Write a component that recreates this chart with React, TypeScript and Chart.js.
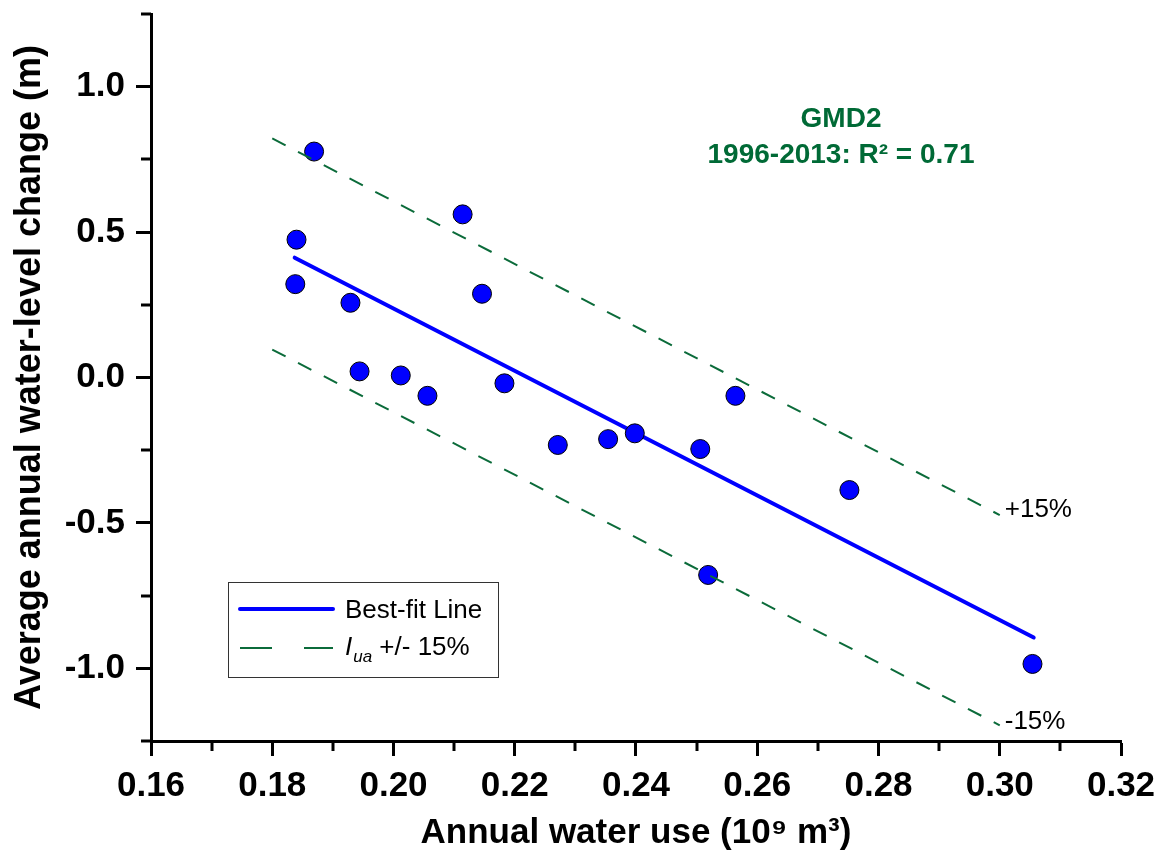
import React, { useEffect, useRef } from 'react';
import { Chart, registerables } from 'chart.js';

Chart.register(...registerables);

const FONT = "'Liberation Sans', Arial, Helvetica, sans-serif";

// Observed data (annual water use in 10^9 m^3, average annual water-level change in m), 1996-2013
const waterUse = [0.1869, 0.1840, 0.1838, 0.1929, 0.2114, 0.2146, 0.1944, 0.2012, 0.2056, 0.2183, 0.2271, 0.2354, 0.2398, 0.2506, 0.2564, 0.2519, 0.2752, 0.3054];
const levelChange = [0.777, 0.474, 0.321, 0.257, 0.561, 0.288, 0.021, 0.007, -0.063, -0.020, -0.232, -0.212, -0.192, -0.246, -0.063, -0.679, -0.387, -0.985];

// Best-fit line end points
const fitX = [0.1837, 0.3056];
const fitY = [0.412, -0.894];

// +/- 15% band end points
const upperX = [0.18, 0.30];
const upperY = [0.822, -0.473];
const lowerX = [0.18, 0.30];
const lowerY = [0.096, -1.196];

// Axis ticks
const xTickValues = [0.16, 0.17, 0.18, 0.19, 0.20, 0.21, 0.22, 0.23, 0.24, 0.25, 0.26, 0.27, 0.28, 0.29, 0.30, 0.31, 0.32];
const xTickLabels = ['0.16', '', '0.18', '', '0.20', '', '0.22', '', '0.24', '', '0.26', '', '0.28', '', '0.30', '', '0.32'];
const yTickValues = [-1.25, -1.0, -0.75, -0.5, -0.25, 0, 0.25, 0.5, 0.75, 1.0, 1.25];
const yTickLabels = ['', '-1.0', '', '-0.5', '', '0.0', '', '0.5', '', '1.0', ''];

const xTitle = 'Annual water use (10\u2079 m\u00B3)';
const yTitle = 'Average annual water-level change (m)';
const annotationLines = ['GMD2', '1996-2013: R\u00B2 = 0.71'];
const bandLabels = ['+15%', '-15%'];
const legendFitLabel = 'Best-fit Line';
const legendBandMain = 'I';
const legendBandSub = 'ua';
const legendBandRest = ' +/- 15%';

const BLUE = '#0000FF';
const GREEN = '#0B6B3A';
const TEXT_GREEN = '#006A36';

const toPts = (xs: number[], ys: number[]) => xs.map((x, i) => ({ x, y: ys[i] }));

export default function App() {
  const ref = useRef<HTMLCanvasElement>(null);

  useEffect(() => {
    document.body.style.margin = '0';
    const canvas = ref.current!;

    const overlay = {
      id: 'overlay',
      afterDraw(chart: any) {
        const ctx = chart.ctx as CanvasRenderingContext2D;
        const xs = chart.scales.x;
        const ys = chart.scales.y;
        const area = chart.chartArea;
        ctx.save();
        // minor ticks
        ctx.strokeStyle = '#000';
        ctx.lineWidth = 3;
        ctx.lineCap = 'butt';
        xTickValues.forEach((v, i) => {
          if (xTickLabels[i]) return;
          const px = Math.round(xs.getPixelForValue(v));
          ctx.beginPath();
          ctx.moveTo(px, area.bottom);
          ctx.lineTo(px, area.bottom + 10);
          ctx.stroke();
        });
        yTickValues.forEach((v, i) => {
          if (yTickLabels[i]) return;
          const py = Math.round(ys.getPixelForValue(v));
          ctx.beginPath();
          ctx.moveTo(area.left, py);
          ctx.lineTo(area.left - 10, py);
          ctx.stroke();
        });

        // annotation
        ctx.fillStyle = TEXT_GREEN;
        ctx.textAlign = 'center';
        ctx.textBaseline = 'alphabetic';
        ctx.font = `bold 28px ${FONT}`;
        const ax = xs.getPixelForValue(0.275);
        ctx.fillText(annotationLines[0], 841, 127);
        ctx.fillText(annotationLines[1], 841, 163);

        // band labels
        ctx.fillStyle = '#000';
        ctx.textAlign = 'left';
        ctx.font = `26px ${FONT}`;
        const ux = xs.getPixelForValue(upperX[1]);
        ctx.fillText(bandLabels[0], ux + 5, ys.getPixelForValue(upperY[1]) + 2);
        ctx.fillText(bandLabels[1], ux + 5, ys.getPixelForValue(lowerY[1]) + 4);

        // legend box
        const bx = 228.5, by = 582.5, bw = 270, bh = 95;
        ctx.strokeStyle = '#333';
        ctx.lineWidth = 1;
        ctx.strokeRect(bx, by, bw, bh);
        ctx.strokeStyle = BLUE;
        ctx.lineWidth = 4;
        ctx.lineCap = 'round';
        ctx.beginPath();
        ctx.moveTo(240, 609);
        ctx.lineTo(333, 609);
        ctx.stroke();
        ctx.strokeStyle = GREEN;
        ctx.lineWidth = 2;
        ctx.lineCap = 'butt';
        ctx.beginPath();
        ctx.moveTo(240, 648);
        ctx.lineTo(272, 648);
        ctx.moveTo(304, 648);
        ctx.lineTo(333, 648);
        ctx.stroke();
        ctx.fillStyle = '#000';
        ctx.font = `26px ${FONT}`;
        ctx.fillText(legendFitLabel, 345, 618);
        ctx.font = `italic 26px ${FONT}`;
        ctx.fillText(legendBandMain, 345, 655);
        let cx = 345 + ctx.measureText(legendBandMain).width + 1;
        ctx.font = `italic 17px ${FONT}`;
        ctx.fillText(legendBandSub, cx, 662);
        cx += ctx.measureText(legendBandSub).width;
        ctx.font = `26px ${FONT}`;
        ctx.fillText(legendBandRest, cx, 655);
        ctx.restore();
      },
    };

    const zeroPad = (scale: any) => {
      scale.paddingTop = 0;
      scale.paddingBottom = 0;
      scale.paddingLeft = 0;
      scale.paddingRight = 0;
    };

    const chart = new Chart(canvas, {
      type: 'scatter',
      data: {
        datasets: [
          {
            label: 'upper',
            data: toPts(upperX, upperY),
            showLine: true,
            borderColor: GREEN,
            borderWidth: 2,
            borderDash: [15, 14],
            pointRadius: 0,
            order: 0,
          },
          {
            label: 'lower',
            data: toPts(lowerX, lowerY),
            showLine: true,
            borderColor: GREEN,
            borderWidth: 2,
            borderDash: [15, 14],
            pointRadius: 0,
            order: 0,
          },
          {
            label: 'observed',
            data: toPts(waterUse, levelChange),
            pointRadius: 9.5,
            pointBackgroundColor: BLUE,
            pointBorderColor: '#000',
            pointBorderWidth: 1,
            showLine: false,
            order: 1,
          },
          {
            label: 'fit',
            data: toPts(fitX, fitY),
            showLine: true,
            borderColor: BLUE,
            borderWidth: 4,
            borderCapStyle: 'round',
            pointRadius: 0,
            order: 2,
          },
        ],
      },
      options: {
        responsive: false,
        animation: false,
        layout: { padding: { left: 0, top: 14, right: 42, bottom: 0 } },
        plugins: {
          legend: { display: false },
          tooltip: { enabled: false },
        },
        scales: {
          x: {
            type: 'linear',
            min: 0.16,
            max: 0.32,
            afterBuildTicks: (s: any) => {
              s.ticks = xTickValues.map((v) => ({ value: v }));
            },
            afterFit: (s: any) => {
              s.height = 113;
              zeroPad(s);
            },
            border: { display: true, width: 3, color: '#000' },
            grid: {
              drawOnChartArea: false,
              drawTicks: true,
              tickLength: 15,
              tickWidth: 3,
              tickColor: (c: any) => (xTickLabels[c.index] ? '#000' : 'rgba(0,0,0,0)'),
            },
            ticks: {
              autoSkip: false,
              maxRotation: 0,
              padding: 9,
              color: '#000',
              font: { family: FONT, size: 35, weight: 'bold' },
              callback: (_v: any, i: number) => xTickLabels[i],
            },
            title: {
              display: true,
              text: xTitle,
              color: '#000',
              font: { family: FONT, size: 35, weight: 'bold' },
              padding: { top: 0, bottom: 0 },
            },
          },
          y: {
            type: 'linear',
            min: -1.25,
            max: 1.25,
            afterBuildTicks: (s: any) => {
              s.ticks = yTickValues.map((v) => ({ value: v }));
            },
            afterFit: (s: any) => {
              s.width = 151;
              zeroPad(s);
            },
            border: { display: true, width: 3, color: '#000' },
            grid: {
              drawOnChartArea: false,
              drawTicks: true,
              tickLength: 15,
              tickWidth: 3,
              tickColor: (c: any) => (yTickLabels[c.index] ? '#000' : 'rgba(0,0,0,0)'),
            },
            ticks: {
              autoSkip: false,
              padding: 11,
              color: '#000',
              font: { family: FONT, size: 35, weight: 'bold' },
              callback: (_v: any, i: number) => yTickLabels[i],
            },
            title: {
              display: true,
              text: yTitle,
              color: '#000',
              font: { family: FONT, size: 36, weight: 'bold' },
              padding: { top: 8, bottom: 0 },
            },
          },
        },
      },
      plugins: [overlay],
    });

    return () => chart.destroy();
  }, []);

  return (
    <div style={{ width: 1163, height: 854 }}>
      <canvas ref={ref} width={1163} height={854} style={{ display: 'block' }} />
    </div>
  );
}
